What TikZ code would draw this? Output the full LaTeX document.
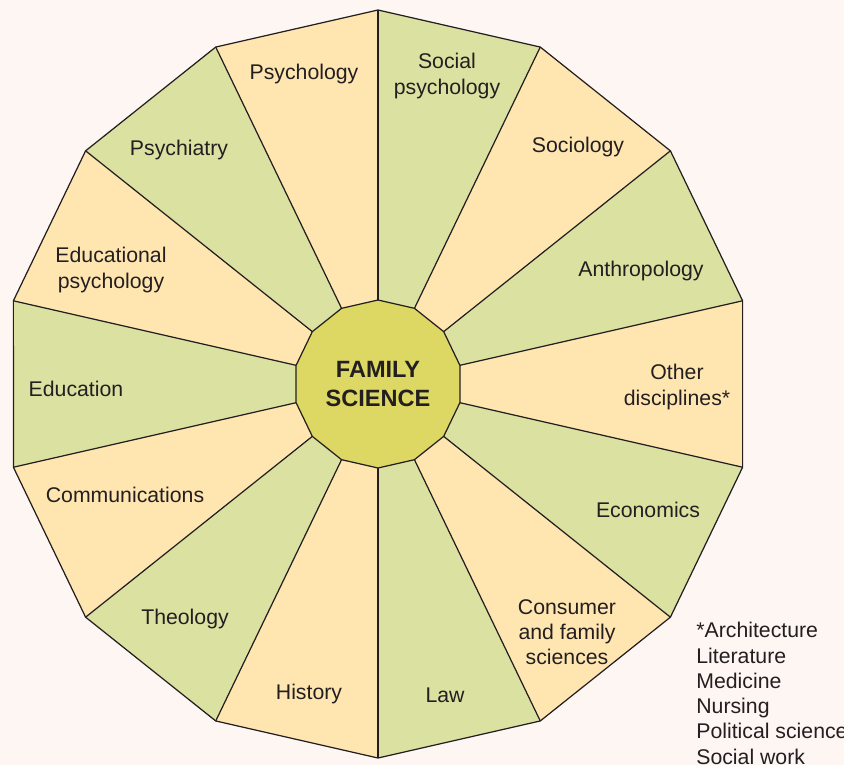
\documentclass[tikz,border=0pt]{standalone}
\usepackage{fontspec}
\setmainfont{Liberation Sans}
\usepackage{xcolor}
\usepackage{tikz}
\usetikzlibrary{positioning}

\definecolor{bgpink}{HTML}{FEF6F3}
\definecolor{segorange}{HTML}{FFE6B1}
\definecolor{seggreen}{HTML}{DBE1A1}
\definecolor{hubyellow}{HTML}{DDD764}
\definecolor{inkgray}{HTML}{231F20}

\begin{document}
\begin{tikzpicture}[
    x=0.02cm, y=0.02cm,
    seg/.style={draw=inkgray, line width=0.7pt},
    lbl/.style={align=center, text=inkgray, inner sep=0pt, yshift=-0.04cm, font=\fontsize{12.1}{14.4}\selectfont},
    hubtext/.style={align=center, text=inkgray, inner sep=0pt, font=\bfseries\fontsize{13.4}{16}\selectfont}
]
% page
\fill[bgpink] (-378,384) rectangle (466,-381);
\useasboundingbox (-378,384) rectangle (466,-381);

% corners of the wheel and of the hub, clockwise from the top
\foreach \k in {0,...,13} {
    \coordinate (o\k) at ({90-\k*360/14}:374);
    \coordinate (i\k) at ({90-\k*360/14}:84);
}

% segments, green and orange in turn
\foreach \k in {0,...,13} {
    \pgfmathtruncatemacro{\nxt}{mod(\k+1,14)}
    \pgfmathtruncatemacro{\parity}{mod(\k,2)}
    \ifnum\parity=0 \def\segcol{seggreen}\else\def\segcol{segorange}\fi
    \fill[\segcol] (i\k) -- (o\k) -- (o\nxt) -- (i\nxt) -- cycle;
}

% rim, spokes and hub
\draw[seg] (o0) \foreach \k in {1,...,13} { -- (o\k) } -- cycle;
\foreach \k in {0,...,13} \draw[seg] (i\k) -- (o\k);
\filldraw[seg, fill=hubyellow] (i0) \foreach \k in {1,...,13} { -- (i\k) } -- cycle;

\node (hub) [hubtext] at (0,0) {FAMILY\\SCIENCE};

% disciplines
\node (psychology) [lbl] at (-74,312) {Psychology};
\node (socialpsy) [lbl] at (69,310) {Social\\psychology};
\node (sociology) [lbl] at (200,239) {Sociology};
\node (anthro) [lbl] at (263,115) {Anthropology};
\node (other) [lbl] at (299,-1) {Other\\disciplines*};
\node (economics) [lbl] at (270,-124) {Economics};
\node (consumer) [lbl] at (189,-246) {Consumer\\and family\\sciences};
\node (law) [lbl] at (67,-309) {Law};
\node (history) [lbl] at (-69,-308) {History};
\node (theology) [lbl] at (-193,-233) {Theology};
\node (comms) [lbl] at (-253,-109) {Communications};
\node (education) [lbl] at (-302,-3) {Education};
\node (edpsy) [lbl] at (-267,116) {Educational\\psychology};
\node (psychiatry) [lbl] at (-199,236) {Psychiatry};

% footnote list
\node (others) [lbl, align=left, anchor=north west] at (318,-236)
    {*Architecture\\Literature\\Medicine\\Nursing\\Political science\\Social work};
\end{tikzpicture}
\end{document}
